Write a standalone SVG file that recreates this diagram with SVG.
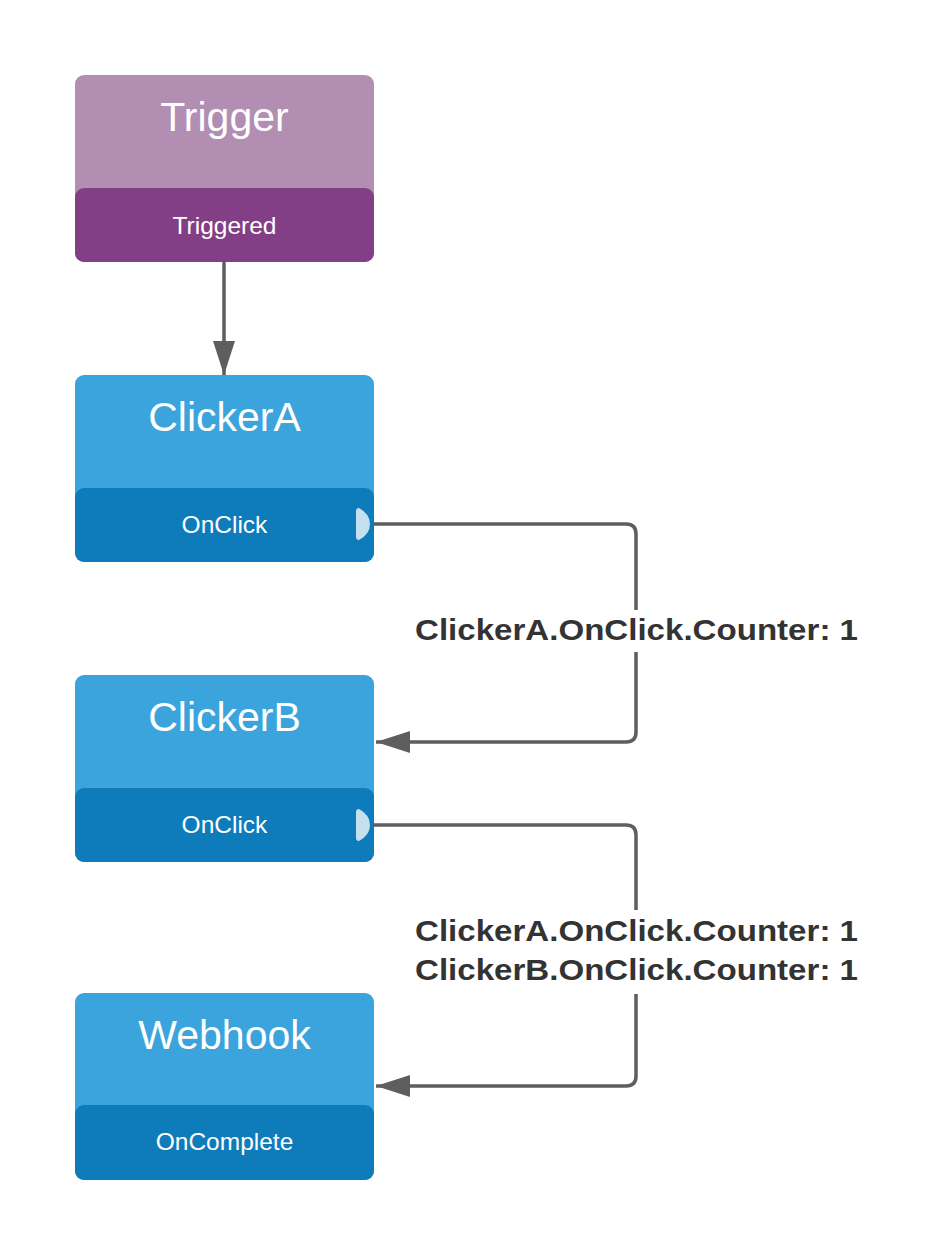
<svg xmlns="http://www.w3.org/2000/svg" width="936" height="1254" viewBox="0 0 936 1254">
<defs>
<style>
.title{font-family:"Liberation Sans",Arial,sans-serif;font-size:41px;fill:#fff;text-anchor:middle}
.port{font-family:"Liberation Sans",Arial,sans-serif;font-size:24.5px;fill:#fff;text-anchor:middle}
.lbl{font-family:"Liberation Sans",Arial,sans-serif;font-size:30px;font-weight:bold;fill:#333}
.conn{fill:none;stroke:#5e5e5e;stroke-width:3.5}
.head-p{fill:#b28fb2}.band-p{fill:#833f85}
.head-b{fill:#3ba4dc}.band-b{fill:#0e7bbb}
.nub{fill:#c5e0ef}
</style>
<marker id="arrL" viewBox="0 0 34 22" refX="34" refY="11" markerWidth="34" markerHeight="22" markerUnits="userSpaceOnUse" orient="auto">
<path d="M0,0 L34,11 L0,22 z" fill="#5e5e5e"/>
</marker>
</defs>
<g id="connectors">
<path class="conn" d="M224,262 V375" marker-end="url(#arrL)"/>
<path class="conn" d="M372,524 H626 Q636,524 636,534 V732 Q636,742 626,742 H376" marker-end="url(#arrL)"/>
<path class="conn" d="M372,825 H626 Q636,825 636,835 V1076 Q636,1086 626,1086 H376" marker-end="url(#arrL)"/>
<rect x="410" y="610" width="455" height="42" fill="#fff"/>
<rect x="410" y="910" width="455" height="84" fill="#fff"/>
<text class="lbl" x="415" y="640" textLength="443" lengthAdjust="spacingAndGlyphs">ClickerA.OnClick.Counter: 1</text>
<text class="lbl" x="415" y="941" textLength="443" lengthAdjust="spacingAndGlyphs">ClickerA.OnClick.Counter: 1</text>
<text class="lbl" x="415" y="980" textLength="443" lengthAdjust="spacingAndGlyphs">ClickerB.OnClick.Counter: 1</text>
</g>
<g id="trigger">
<rect class="head-p" x="75" y="75" width="299" height="187" rx="9"/>
<rect class="band-p" x="75" y="188" width="299" height="74" rx="9"/>
<text class="title" x="224.5" y="131">Trigger</text>
<text class="port" x="224.5" y="234">Triggered</text>
</g>
<g id="clickerA">
<rect class="head-b" x="75" y="375" width="299" height="187" rx="9"/>
<rect class="band-b" x="75" y="488" width="299" height="74" rx="9"/>
<text class="title" x="224.5" y="431">ClickerA</text>
<text class="port" x="224.5" y="533">OnClick</text>
<path class="nub" d="M356,511 Q356,508 359,508 Q370,514 370,524 Q370,534 359,540 Q356,540 356,537 z"/>
</g>
<g id="clickerB">
<rect class="head-b" x="75" y="675" width="299" height="187" rx="9"/>
<rect class="band-b" x="75" y="788" width="299" height="74" rx="9"/>
<text class="title" x="224.5" y="731">ClickerB</text>
<text class="port" x="224.5" y="833">OnClick</text>
<path class="nub" d="M356,812 Q356,809 359,809 Q370,815 370,825 Q370,835 359,841 Q356,841 356,838 z"/>
</g>
<g id="webhook">
<rect class="head-b" x="75" y="993" width="299" height="187" rx="9"/>
<rect class="band-b" x="75" y="1105" width="299" height="75" rx="9"/>
<text class="title" x="224.5" y="1049">Webhook</text>
<text class="port" x="224.5" y="1150">OnComplete</text>
</g>
</svg>
